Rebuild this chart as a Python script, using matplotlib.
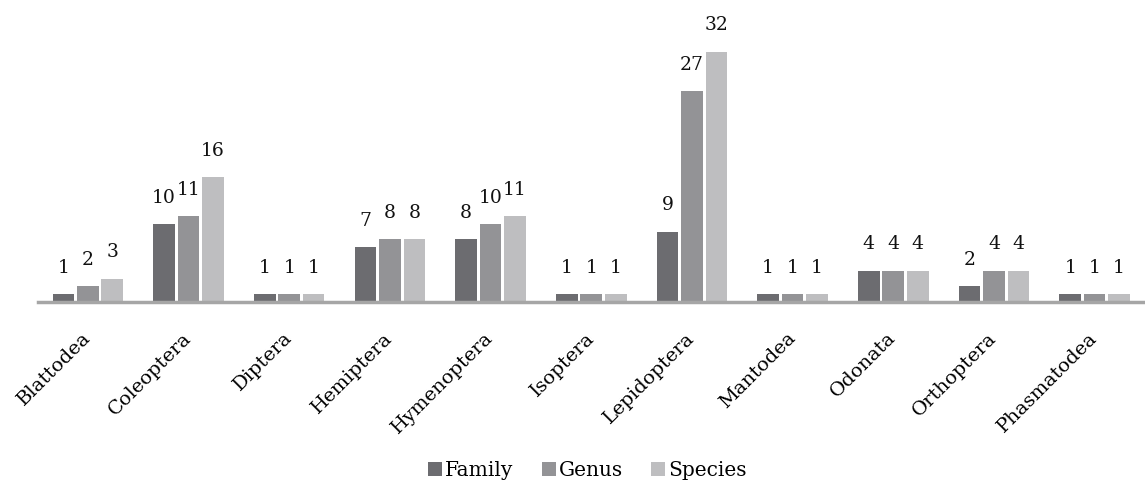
import numpy as np
import matplotlib.pyplot as plt

orders = ['Blattodea', 'Coleoptera', 'Diptera', 'Hemiptera', 'Hymenoptera',
          'Isoptera', 'Lepidoptera', 'Mantodea', 'Odonata', 'Orthoptera',
          'Phasmatodea']
family = [1, 10, 1, 7, 8, 1, 9, 1, 4, 2, 1]
genus = [2, 11, 1, 8, 10, 1, 27, 1, 4, 4, 1]
species = [3, 16, 1, 8, 11, 1, 32, 1, 4, 4, 1]

plt.rcParams['font.family'] = ['DejaVu Serif']

fig = plt.figure(figsize=(11.45, 4.88), dpi=100)
ax = fig.add_axes([37.5 / 1145, 186 / 488, 1 - 37.5 / 1145, 0.558])

x = np.arange(len(orders))
slot = 0.243
width = 0.215
series = [('Family', family, '#6c6c70'),
          ('Genus', genus, '#939396'),
          ('Species', species, '#bebec0')]

for i, (name, vals, color) in enumerate(series):
    pos = x + (i - 1) * slot
    bars = ax.bar(pos, vals, width, color=color, label=name, zorder=2)
    for b, v in zip(bars, vals):
        ax.text(b.get_x() + b.get_width() / 2, v + 2.2, str(v),
                ha='center', va='bottom', fontsize=13.5, color='#111111',
                clip_on=False)

ax.set_xlim(-0.5, len(orders) - 0.5)
ax.set_ylim(0, 34.8)
ax.set_yticks([])
ax.set_xticks(x)
ax.set_xticklabels(orders, rotation=45, ha='right', va='center',
                   rotation_mode='anchor', fontsize=14)
ax.tick_params(axis='x', length=0, pad=24)
for s in ['top', 'right', 'left']:
    ax.spines[s].set_visible(False)
ax.spines['bottom'].set_color('#a6a6a6')
ax.spines['bottom'].set_linewidth(2.5)

fig.legend(loc='lower center', bbox_to_anchor=(0.513, -0.02), ncol=3,
           frameon=False, fontsize=14.5, handlelength=0.7, handleheight=0.7,
           handletextpad=0.15, columnspacing=1.4)

fig.savefig('out.png', dpi=100)
